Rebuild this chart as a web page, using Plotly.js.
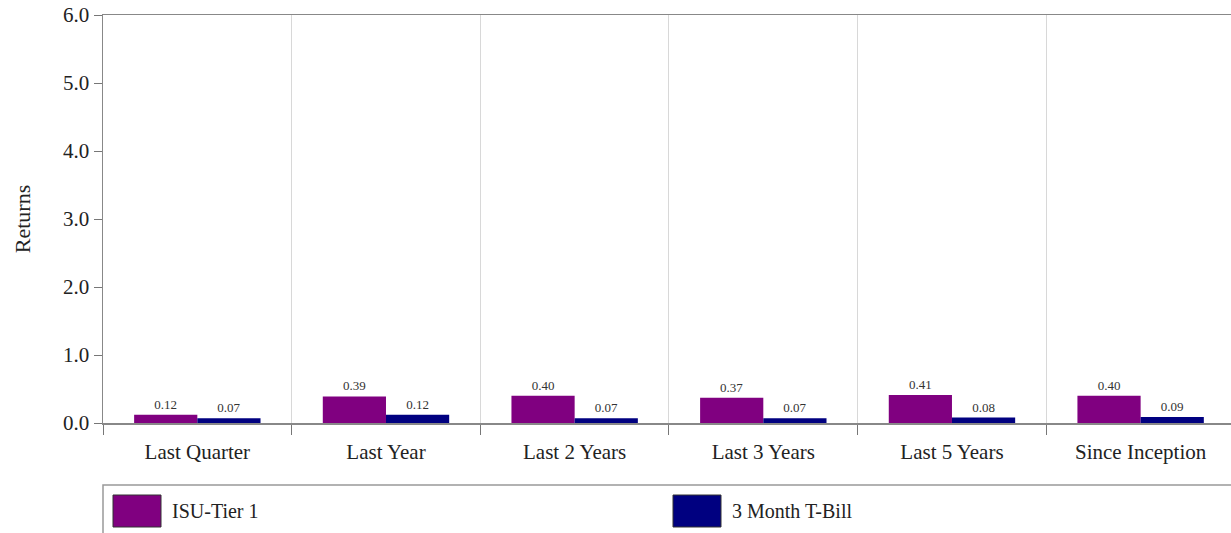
<!DOCTYPE html>
<html>
<head>
<meta charset="utf-8">
<script src="https://cdn.plot.ly/plotly-3.0.1.min.js"></script>
<style>html,body{margin:0;padding:0;background:#fff;}#chart{width:1231px;height:533px;}</style>
</head>
<body>
<div id="chart"></div>
<script>
const categories = ["Last Quarter", "Last Year", "Last 2 Years", "Last 3 Years", "Last 5 Years", "Since Inception"];
const seriesNames = ["ISU-Tier 1", "3 Month T-Bill"];
const isuTier1 = [0.12, 0.39, 0.40, 0.37, 0.41, 0.40];
const tBill = [0.07, 0.12, 0.07, 0.07, 0.08, 0.09];
const colors = ["#800080", "#000080"];
const yTickVals = [0, 1, 2, 3, 4, 5, 6];
const yTickText = ["0.0", "1.0", "2.0", "3.0", "4.0", "5.0", "6.0"];

const serif = "Liberation Serif, Times New Roman, serif";
const series = [isuTier1, tBill];

const traces = series.map((vals, i) => ({
  type: "bar",
  name: seriesNames[i],
  x: categories,
  y: vals,
  marker: {color: colors[i], line: {width: 0}},
  text: vals.map(v => v.toFixed(2)),
  textposition: "outside",
  cliponaxis: false,
  textfont: {family: serif, size: 13, color: "#333"},
  hoverinfo: "x+y"
}));

// Legend drawn as a boxed row (matching the large swatches of the reference)
const W = 1128, H = 408; // plot area in px
const px = x => (x - 103) / W;
const py = y => (423 - y) / H;
const legendItems = [{x: 113}, {x: 673}];
const shapes = [
  {type: "rect", xref: "paper", yref: "paper", x0: px(103), x1: px(1240), y0: py(560), y1: py(485),
   line: {color: "#999", width: 1.5}, fillcolor: "rgba(0,0,0,0)"}
];
const annotations = [];
legendItems.forEach((it, i) => {
  shapes.push({type: "rect", xref: "paper", yref: "paper", x0: px(it.x), x1: px(it.x + 48),
    y0: py(527), y1: py(495), fillcolor: colors[i], line: {color: "#333", width: 1}});
  annotations.push({xref: "paper", yref: "paper", x: px(it.x + 57), y: py(511), text: seriesNames[i],
    showarrow: false, xanchor: "left", yanchor: "middle", font: {family: serif, size: 20, color: "#222"}});
});

const layout = {
  width: 1231, height: 533,
  margin: {l: 103, r: 0, t: 15, b: 110, pad: 0},
  paper_bgcolor: "#fff", plot_bgcolor: "#fff",
  showlegend: false,
  barmode: "group",
  bargap: 0.33, bargroupgap: 0,
  font: {family: serif, color: "#222"},
  xaxis: {
    type: "category",
    range: [-0.5, 5.479],
    autorange: false,
    tickson: "boundaries",
    ticks: "outside", ticklen: 10, tickcolor: "#777", tickwidth: 1,
    showgrid: true, gridcolor: "#d8d8d8", gridwidth: 1,
    showline: true, linecolor: "#888", linewidth: 1.5, mirror: true,
    tickfont: {family: serif, size: 21, color: "#222"},
    ticklabelstandoff: 9,
    zeroline: false, fixedrange: true
  },
  yaxis: {
    range: [0, 6], autorange: false,
    tickvals: yTickVals, ticktext: yTickText,
    ticks: "outside", ticklen: 8, tickcolor: "#777",
    showgrid: false, zeroline: false,
    showline: true, linecolor: "#888", linewidth: 1.5,
    tickfont: {family: serif, size: 21, color: "#222"},
    title: {text: "Returns", font: {family: serif, size: 22, color: "#222"}, standoff: 26},
    fixedrange: true
  },
  shapes: shapes,
  annotations: annotations
};

Plotly.newPlot("chart", traces, layout, {displayModeBar: false, staticPlot: true});
</script>
</body>
</html>
